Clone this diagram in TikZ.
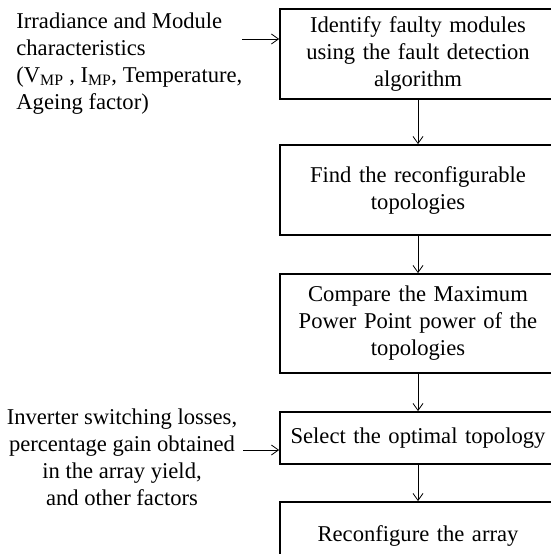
\documentclass[tikz,border=0pt]{standalone}
\usepackage{fontspec}
\setmainfont{Liberation Serif}
\usetikzlibrary{arrows.meta}
\begin{document}
\begin{tikzpicture}[x=1pt, y=-1pt, line width=0.8pt,
  font=\fontsize{22.6}{27}\selectfont,
  >={Straight Barb[length=7pt,width=10pt]},
  box/.style={draw, line width=1.8pt, minimum width=276pt, text width=262pt, align=center, inner sep=0pt}]
\clip (0,0) rectangle (551,554);
% main steps
\node[box, minimum height=90pt] (ident) at (418,54) {Identify faulty modules\\ using the fault detection\\ algorithm};
\node[box, minimum height=90pt] (find) at (418,190) {Find the reconfigurable\\ topologies};
\node[box, minimum height=99pt] (comp) at (418,323.5) {Compare the Maximum\\ Power Point power of the\\ topologies};
\node[box, minimum height=52pt] (select) at (418,438) {Select the optimal topology};
\node[box, minimum height=68pt] (reconf) at (418,536) {Reconfigure the array};
% inputs
\node[anchor=north west, align=left, inner sep=0pt] (irr) at (16,12) {Irradiance and Module\\ characteristics\\ (V\textsubscript{MP} , I\textsubscript{MP}, Temperature,\\ Ageing factor)};
\node[anchor=north, align=center, inner sep=0pt] (inv) at (122,408) {Inverter switching losses,\\ percentage gain obtained\\ in the array yield,\\ and other factors};
\coordinate (irr-out) at (242,39);
\coordinate (inv-out) at (243,450);
\draw[->] (irr-out) -- (irr-out -| ident.west);
\draw[->] (inv-out) -- (inv-out -| select.west);
\draw[->] (ident.south) -- (find.north);
\draw[->] (find.south) -- (comp.north);
\draw[->] (comp.south) -- (select.north);
\draw[->] (select.south) -- (reconf.north);
\end{tikzpicture}
\end{document}
